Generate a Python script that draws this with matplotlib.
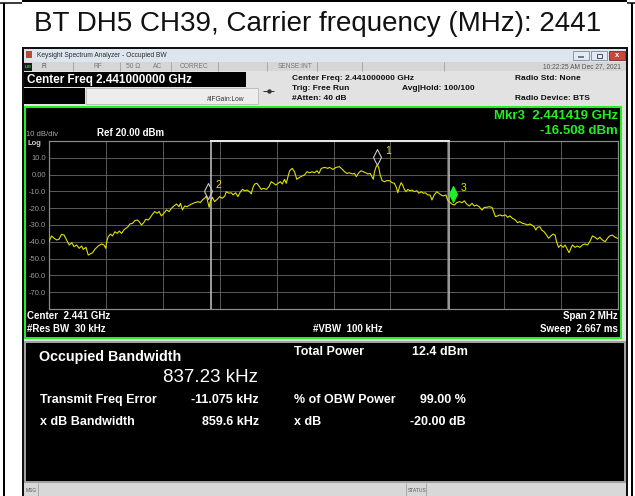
import matplotlib
matplotlib.use("Agg")
import matplotlib.pyplot as plt
from matplotlib.patches import Rectangle
from matplotlib.path import Path

plt.rcParams['font.family'] = ['Liberation Sans', 'DejaVu Sans']

# ---- data ----
title = "BT DH5 CH39, Carrier frequency (MHz): 2441"

# trace: offset from centre (kHz) and level (dBm)
freq_khz = [
    -1000, -991, -982, -973, -965, -956, -947, -938, -929, -920,
    -912, -903, -894, -885, -880, -870, -862, -856, -847, -839,
    -827, -815, -807, -800, -798, -792, -784, -777, -768, -760,
    -753, -745, -737, -730, -722, -716, -706, -698, -690, -683,
    -675, -667, -660, -651, -646, -636, -628, -620, -613, -605,
    -596, -587, -578, -570, -561, -552, -543, -538, -531, -523,
    -515, -505,
    -499, -488, -476, -468, -461, -453, -447, -441, -437, -433,
    -426, -418, -409, -400, -391, -382, -377, -367, -359, -353,
    -344, -336, -327, -320, -312, -304, -295, -289, -283, -277,
    -269, -262, -254, -246, -236, -227, -219, -210, -203, -195,
    -187, -180, -172, -166, -160, -154, -145, -137, -129, -119,
    -110, -102, -93, -84, -75, -67, -58, -51, -43, -31, -20,
    -14, -2, 9, 21, 31, 39, 47, 56, 66, 74,
    80, 89, 97, 105, 112, 121, 129, 136, 140, 144,
    150, 154, 159, 164, 171, 179, 187, 197, 206, 214,
    220, 226, 232, 238, 243, 249, 255, 261, 269, 276,
    284, 293, 300, 308, 316, 323, 331, 339, 346, 354,
    363, 370, 378, 386, 395, 401, 407, 416, 425, 433,
    442, 452, 460, 468, 477,
    487, 495, 503, 512, 522, 530, 538, 547, 557, 563,
    569, 577, 585, 594, 604, 612, 620, 629, 639, 647,
    655, 664, 674, 682, 690, 697, 705, 711, 717, 725,
    732, 740, 749, 756, 764, 772, 779, 784, 791, 799,
    807, 814, 822, 828, 834, 840, 849, 857, 866, 875,
    884, 893, 901, 910, 919, 928, 936, 945, 955, 963,
    971, 980, 990, 998,
]
level_dbm = [
    -39.9, -36.5, -37.9, -38.9, -38.5, -35.6, -36.0, -38.9, -41.9, -40.5,
    -42.9, -41.9, -43.9, -42.5, -44.5, -43.3, -47.9, -47.3, -46.5, -44.5,
    -42.5, -41.3, -41.9, -43.9, -40.5, -37.0, -35.4, -36.5, -34.0, -35.0,
    -33.6, -35.0, -33.0, -32.0, -31.0, -29.4, -29.0, -27.4, -27.0, -28.0,
    -30.0, -28.6, -26.6, -27.0, -26.0, -23.5, -22.0, -23.0, -22.0, -24.6,
    -23.0, -21.0, -22.0, -20.1, -18.7, -17.5, -19.1, -17.1, -21.0, -18.7,
    -19.1, -18.1,
    -17.5, -16.7, -16.1, -16.7, -15.1, -14.1, -12.7, -16.7, -19.5, -16.1,
    -13.5, -16.1, -14.7, -13.1, -14.1, -12.7, -10.2, -11.1, -10.8, -12.1,
    -10.8, -13.1, -10.2, -8.8, -9.6, -9.2, -10.2, -11.5, -7.6, -5.6,
    -5.2, -6.8, -8.8, -8.2, -8.8, -7.2, -4.2, -5.2, -6.2, -5.2,
    -4.2, -5.6, -2.8, -5.2, -1.2, 2.3, 3.7, 1.7, -2.8, -1.6,
    -0.8, -0.2, 1.7, 1.1, 1.7, 1.1, 2.3, 0.7, 3.7, 4.3, 3.7,
    4.3, 3.1, 4.3, 4.7, 3.1, 1.7, 0.7, 1.1, 0.4, 0.7,
    -1.2, 1.1, 2.3, 1.7, 1.1, 0.4, 0.7, -1.6, -2.8, 1.7,
    4.7, 5.7, 4.3, -0.2, -3.6, -4.2, -3.6, -3.6, -4.8, -5.2,
    -7.2, -10.8, -7.2, -4.8, -6.2, -8.8, -10.2, -8.8, -9.6, -9.2,
    -10.2, -9.6, -11.1, -10.2, -11.1, -10.8, -12.1, -12.1, -15.1, -12.1,
    -10.2, -11.1, -12.1, -12.7, -12.1, -15.1, -16.1, -17.5, -18.1, -16.7,
    -16.1, -16.7, -15.6, -17.5, -18.7,
    -17.1, -18.7, -18.1, -19.1, -21.1, -19.5, -19.5, -19.1, -19.5, -22.1,
    -25.0, -24.6, -24.0, -24.6, -24.0, -25.4, -24.6, -26.0, -27.0, -28.6,
    -28.0, -29.0, -29.4, -30.0, -29.4, -30.0, -31.0, -33.0, -31.4, -31.0,
    -33.0, -34.0, -36.0, -37.9, -36.5, -35.4, -36.0, -39.9, -43.3, -41.9,
    -43.3, -41.9, -44.5, -46.5, -43.9, -41.9, -43.3, -42.5, -43.3, -41.9,
    -41.3, -41.9, -39.9, -36.5, -37.3, -38.5, -37.3, -38.9, -39.9, -37.9,
    -36.5, -36.0, -37.3, -37.9,
]

marker_names = ['1', '2', '3']
marker_khz = [154, -441, 419]
marker_dbm = [5.7, -14.3, -16.508]

obw_edges_khz = [-429.7, 407.5]

y_ticks = [20, 10, 0, -10, -20, -30, -40, -50, -60, -70, -80]
y_tick_labels = ['', '10.0', '0.00', '-10.0', '-20.0', '-30.0', '-40.0',
                 '-50.0', '-60.0', '-70.0', '']
x_grid_khz = [-1000, -800, -600, -400, -200, 0, 200, 400, 600, 800, 1000]

# ---- figure, background axes in pixel units ----
W, H = 635, 496
fig = plt.figure(figsize=(W / 100, H / 100), dpi=100)
bg = fig.add_axes([0, 0, 1, 1])
bg.set_xlim(0, W)
bg.set_ylim(H, 0)
bg.axis('off')

PX = 0.72  # one pixel in points


def box(x0, y0, x1, y1, fc, ec='none', lw=0, z=1):
    bg.add_patch(Rectangle((x0, y0), x1 - x0, y1 - y0, facecolor=fc,
                           edgecolor=ec, linewidth=lw * PX, zorder=z))


def txt(x, y, s, size, color='black', ha='left', weight='normal', z=5):
    bg.text(x, y, s, fontsize=size, color=color, ha=ha, va='center',
            fontweight=weight, zorder=z)


def hline(y, x0, x1, color, lw=1, z=2):
    bg.plot([x0, x1], [y, y], color=color, lw=lw * PX, zorder=z,
            solid_capstyle='butt')


def vline(x, y0, y1, color, lw=1, z=2):
    bg.plot([x, x], [y0, y1], color=color, lw=lw * PX, zorder=z,
            solid_capstyle='butt')


# outer table cell
vline(3.5, 3, H, 'black', 2)
vline(631.5, 3, H, 'black', 2)
hline(1, 22, 627, 'black', 2)
hline(3, 0, 22, 'black', 1.5)
hline(3, 627, W, 'black', 1.5)
txt(318, 24, title, 20, '#111111', ha='center')

# screenshot frame
box(22, 46.5, 628, H, '#101010')

# window title bar
box(24, 49, 626, 62, '#dde5ef')
box(25.5, 51, 32, 58, '#b84a3c')
txt(37, 55.5, 'Keysight Spectrum Analyzer - Occupied BW', 4.8, '#2a2a2a')
box(573, 51, 589, 60, '#e4eaf2', '#8a98aa', 1)
box(591, 51, 607, 60, '#e4eaf2', '#8a98aa', 1)
box(609, 51, 625, 60, '#c9473b', '#8a3a30', 1)
hline(56.5, 578, 584, '#4a5566', 1.5, z=3)
box(597, 53.5, 602, 57.5, 'none', '#4a5566', 1, z=3)
txt(617, 55.5, 'x', 5.5, 'white', ha='center', weight='bold')

# instrument status row
box(24, 62, 626, 71, '#d6d6d6')
box(24, 62.5, 32, 70.5, '#1a1a1a')
txt(28, 66.5, 'LXI', 3.2, '#2ee02e', ha='center', weight='bold')
for sx in [73, 120, 171, 218, 267, 317, 362, 444]:
    vline(sx, 62, 71, '#a8a8a8', 1)
txt(42, 66.5, 'R', 4.8, '#555555')
txt(94, 66.5, 'RF', 4.8, '#777777')
txt(126, 66.5, '50 \u03a9', 4.8, '#777777')
txt(153, 66.5, 'AC', 4.8, '#777777')
txt(180, 66.5, 'CORREC', 4.8, '#777777')
txt(278, 66.5, 'SENSE:INT', 4.8, '#777777')
txt(621, 66.5, '10:22:25 AM Dec 27, 2021', 4.8, '#555555', ha='right')

# settings row
box(24, 71, 626, 105.5, '#e2e2e2')
box(24, 72, 246, 87, 'black')
txt(27, 79.5, 'Center Freq 2.441000000 GHz', 8.5, 'white', weight='bold')
box(24, 88, 85, 104, 'black')
box(86, 88, 258, 104, '#ededed', '#c0c0c0', 1)
txt(207, 99.5, '#IFGain:Low', 4.8, '#333333')
hline(91, 263, 274, '#333333', 1, z=3)
bg.plot([268.5], [91], marker='o', ms=2.2, color='#333333', zorder=3)
txt(292, 78, 'Center Freq: 2.441000000 GHz', 6, '#111111', weight='bold')
txt(292, 88.5, 'Trig: Free Run', 6, '#111111', weight='bold')
txt(402, 88.5, 'Avg|Hold: 100/100', 6, '#111111', weight='bold')
txt(292, 99, '#Atten: 40 dB', 6, '#111111', weight='bold')
txt(515, 78, 'Radio Std: None', 6, '#111111', weight='bold')
txt(515, 99, 'Radio Device: BTS', 6, '#111111', weight='bold')

# graph window
box(24, 105.5, 626, 342, '#e0e0e0')
box(25, 106.5, 620.5, 338, 'black', '#22ee22', 2)
txt(618, 116, 'Mkr3  2.441419 GHz', 9.5, '#22ee22', ha='right', weight='bold')
txt(618, 130.5, '-16.508 dBm', 9.5, '#22ee22', ha='right', weight='bold')
txt(26, 134, '10 dB/div', 5.5, '#a8a8a8')
txt(97, 133.5, 'Ref 20.00 dBm', 7, 'white', weight='bold')
txt(27, 143.5, 'Log', 5.5, '#d0d0d0', weight='bold')
txt(27, 316, 'Center  2.441 GHz', 7, 'white', weight='bold')
txt(27, 329, '#Res BW  30 kHz', 7, 'white', weight='bold')
txt(313, 329, '#VBW  100 kHz', 7, 'white', weight='bold')
txt(618, 316, 'Span 2 MHz', 7, 'white', ha='right', weight='bold')
txt(618, 329, 'Sweep  2.667 ms', 7, 'white', ha='right', weight='bold')

# result panel
box(25, 342, 625, 482, 'black', '#a0a0a0', 2)
txt(39, 357, 'Occupied Bandwidth', 10.3, 'white', weight='bold')
txt(258, 378, '837.23 kHz', 13.5, 'white', ha='right')
txt(294, 352, 'Total Power', 9, 'white', weight='bold')
txt(412, 352, '12.4 dBm', 9, 'white', weight='bold')
txt(40, 400, 'Transmit Freq Error', 9, 'white', weight='bold')
txt(259, 400, '-11.075 kHz', 9, 'white', ha='right', weight='bold')
txt(294, 400, '% of OBW Power', 9, 'white', weight='bold')
txt(466, 400, '99.00 %', 9, 'white', ha='right', weight='bold')
txt(40, 422, 'x dB Bandwidth', 9, 'white', weight='bold')
txt(259, 422, '859.6 kHz', 9, 'white', ha='right', weight='bold')
txt(294, 422, 'x dB', 9, 'white', weight='bold')
txt(466, 422, '-20.00 dB', 9, 'white', ha='right', weight='bold')

# bottom status bar
box(24, 483, 626, H, '#d8d8d8')
vline(38, 483, H, '#a8a8a8', 1)
vline(406, 483, H, '#a8a8a8', 1)
vline(426, 483, H, '#a8a8a8', 1)
txt(26, 490, 'MSG', 3.6, '#555555')
txt(408, 490, 'STATUS', 3.6, '#555555')

# ---- spectrum trace axes ----
ax = fig.add_axes([49 / W, 1 - 309 / H, 569 / W, 168 / H])
ax.set_facecolor('none')
ax.set_xlim(-1000, 1000)
ax.set_ylim(-80, 20)
ax.set_xticks(x_grid_khz)
ax.set_xticklabels([])
ax.set_yticks(y_ticks)
ax.set_yticklabels(y_tick_labels, fontsize=5.5, color='#9a9a9a')
ax.tick_params(length=0, pad=2)
ax.grid(True, color='#6c6c6c', lw=0.8 * PX)
for sp in ax.spines.values():
    sp.set_color('#8c8c8c')
    sp.set_linewidth(1.2 * PX)

for e in obw_edges_khz:
    ax.axvline(e, color='#bdbdbd', lw=1.6 * PX, zorder=2)
ax.plot(obw_edges_khz, [20, 20], color='#e6e6e6', lw=2 * PX, zorder=3,
        clip_on=False)

ax.plot(freq_khz, level_dbm, color='#e0e000', lw=0.8, zorder=4)

# markers: diamond whose lower tip sits on the trace point
diamond = Path([(0, 0), (1, 2), (0, 4), (-1, 2), (0, 0)],
               [Path.MOVETO, Path.LINETO, Path.LINETO, Path.LINETO,
                Path.CLOSEPOLY])
for name, mx, my in zip(marker_names, marker_khz, marker_dbm):
    active = name == '3'
    ax.plot([mx], [my], marker=diamond, ms=23, zorder=5,
            markerfacecolor='#22ee22' if active else 'none',
            markeredgecolor='#22ee22' if active else '#c8c8c8',
            markeredgewidth=0.8, linestyle='none')
    ax.annotate(name, (mx, my), xytext=(5.5, 10), textcoords='offset points',
                color='#e8e800', fontsize=7.5, ha='left', va='center',
                zorder=6)

fig.savefig('out.png', dpi=100, facecolor='white')
